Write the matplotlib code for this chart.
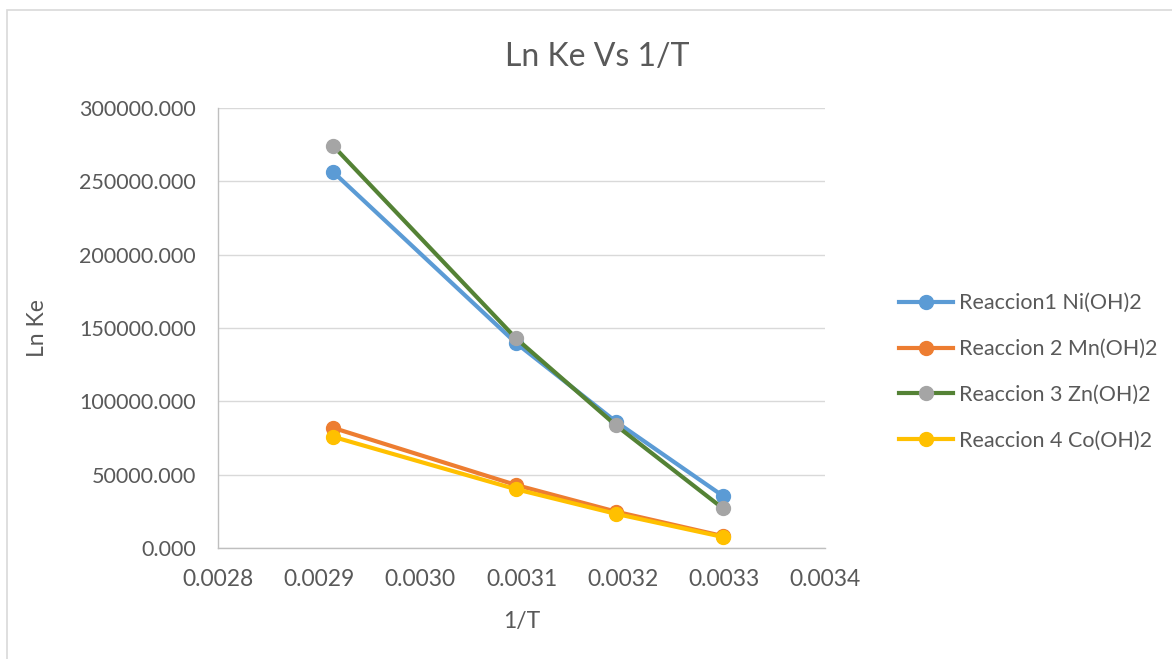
import matplotlib.pyplot as plt
from matplotlib.patches import Rectangle
from matplotlib.ticker import FormatStrFormatter, MultipleLocator

# Data
inv_t = [0.002914, 0.0030945, 0.0031934, 0.0032987]
series_names = [
    "Reaccion1 Ni(OH)2",
    "Reaccion 2 Mn(OH)2",
    "Reaccion 3 Zn(OH)2",
    "Reaccion 4 Co(OH)2",
]
ni_values = [256300, 139800, 86100, 35700]
mn_values = [81900, 43000, 24800, 8200]
zn_values = [274100, 143000, 83600, 27200]
co_values = [75800, 40100, 23300, 7600]

line_colors = ["#5B9BD5", "#ED7D31", "#548235", "#FFC000"]
marker_colors = ["#5B9BD5", "#ED7D31", "#A5A5A5", "#FFC000"]
TEXT_COLOR = "#595959"

plt.rcParams["font.family"] = ["Lato", "DejaVu Sans"]

figure = plt.figure(figsize=(11.72, 6.59), dpi=100)
axis = figure.add_axes([0.186, 0.1684, 0.518, 0.6676])

# Chart border (Excel chart area)
figure.patches.append(
    Rectangle((7 / 1172, -0.05), 1.2, 1 - 10 / 659 + 0.05, transform=figure.transFigure,
              fill=False, edgecolor="#D9D9D9", linewidth=1.2)
)

for values, name, lc, mc in zip(
    [ni_values, mn_values, zn_values, co_values], series_names, line_colors, marker_colors
):
    axis.plot(inv_t, values, color=lc, linewidth=3, marker="o", markersize=10,
              markerfacecolor=mc, markeredgecolor=mc, label=name)

axis.set_xlim(0.0028, 0.0034)
axis.set_ylim(0, 300000)
axis.xaxis.set_major_locator(MultipleLocator(0.0001))
axis.yaxis.set_major_locator(MultipleLocator(50000))
axis.xaxis.set_major_formatter(FormatStrFormatter("%.4f"))
axis.yaxis.set_major_formatter(FormatStrFormatter("%.3f"))

axis.grid(axis="y", color="#D9D9D9", linewidth=1)
axis.set_axisbelow(True)
for side in ["top", "right"]:
    axis.spines[side].set_visible(False)
for side in ["left", "bottom"]:
    axis.spines[side].set_color("#BFBFBF")
    axis.spines[side].set_linewidth(1)
axis.tick_params(length=0, colors=TEXT_COLOR)
axis.tick_params(axis="y", pad=16, labelsize=15.5)
axis.tick_params(axis="x", pad=15, labelsize=16.5)

axis.set_xlabel("1/T", fontsize=16.5, color=TEXT_COLOR)
axis.set_ylabel("Ln Ke", fontsize=16.5, color=TEXT_COLOR)
axis.xaxis.set_label_coords(0.5, -0.143)
axis.yaxis.set_label_coords(-0.28, 0.5)
figure.text(597 / 1172, 1 - 57 / 659, "Ln Ke Vs 1/T", fontsize=23, color=TEXT_COLOR,
            ha="center", va="center")

axis.legend(loc="center left", bbox_to_anchor=(1.09, 0.4), frameon=False, fontsize=15.5,
            labelcolor=TEXT_COLOR, handlelength=2.5, handletextpad=0.3, labelspacing=1.2)

figure.savefig("out.png", dpi=100)
